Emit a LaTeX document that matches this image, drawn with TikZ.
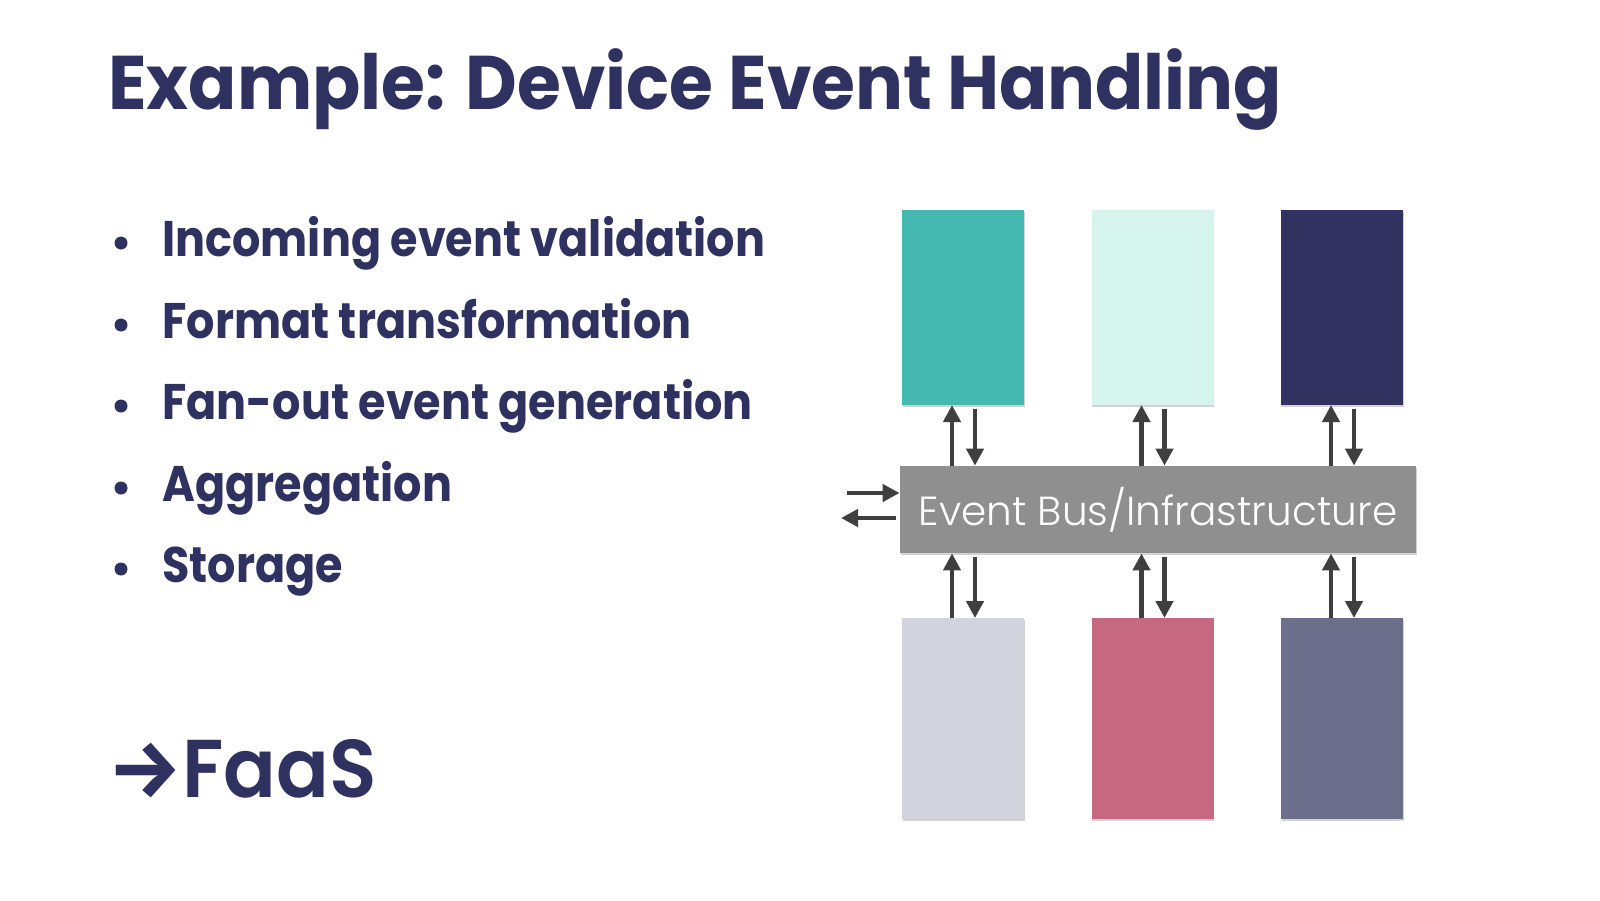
\documentclass[tikz,border=0pt]{standalone}
\usepackage{fontspec}
\setmainfont{Poppins}
\newfontfamily\titlefont{Poppins}[FakeStretch=0.936]
\newfontfamily\bulletfont{Poppins}[FakeStretch=0.89]
\newfontfamily\busfont{Poppins}[UprightFont=* Light]
\newfontfamily\faasfont{Poppins}[UprightFont=* SemiBold, FakeStretch=0.95]
\newfontfamily\arrowfont{Fira Sans}
\usetikzlibrary{arrows.meta,calc,shadows}
\definecolor{navy}{HTML}{2F3160}
\definecolor{cteal}{HTML}{45B8B2}
\definecolor{cmint}{HTML}{D5F4EE}
\definecolor{cnavy}{HTML}{31325F}
\definecolor{cgrey}{HTML}{D2D3DC}
\definecolor{cpink}{HTML}{C66882}
\definecolor{cslate}{HTML}{6D6E8B}
\definecolor{cbus}{HTML}{8F8F8F}
\definecolor{carrow}{HTML}{3F3F3F}
\tikzset{
  blockbox/.style={rectangle, minimum width=61pt, inner sep=0pt, outer sep=0pt,
    drop shadow={shadow xshift=0.4pt, shadow yshift=-0.9pt, opacity=0.35}},
  topbox/.style={blockbox, minimum height=97.5pt},
  botbox/.style={blockbox, minimum height=100.5pt},
  conn/.style={draw=carrow, line width=2.4pt, -{Triangle[width=8.5pt,length=8.5pt]}},
  bullettext/.style={anchor=base west, inner sep=0pt, text=navy, font=\bulletfont\fontsize{25}{30}\selectfont\bfseries},
  dot/.style={circle, fill=navy, minimum size=6.5pt, inner sep=0pt}
}
\begin{document}
\begin{tikzpicture}[x=0.5pt,y=-0.5pt]
\useasboundingbox (0,0) rectangle (1600,900);
\fill[white] (0,0) rectangle (1600,900);
% title
\node[anchor=base west, inner sep=0pt, text=navy, font=\titlefont\fontsize{38}{44}\selectfont\bfseries] (title) at (108,109) {Example: Device Event Handling};
% bullets
\foreach \i/\t/\yy in {1/Incoming event validation/256, 2/Format transformation/338, 3/Fan-out event generation/419, 4/Aggregation/501, 5/Storage/582}{
  \node[dot] (d\i) at (121,\yy-13) {};
  \node[bullettext] (b\i) at (162,\yy) {\t};
}
\node[anchor=base west, inner sep=0pt, text=navy, font=\faasfont\fontsize{41}{48}\selectfont] (faas) at (108,797) {{\arrowfont\bfseries →}FaaS};
% boxes
\node[topbox, fill=cteal] (t1) at (963,307.5) {};
\node[topbox, fill=cmint] (t2) at (1152.5,307.5) {};
\node[topbox, fill=cnavy] (t3) at (1342,307.5) {};
\node[botbox, fill=cgrey] (u1) at (963,718.5) {};
\node[botbox, fill=cpink] (u2) at (1152.5,718.5) {};
\node[botbox, fill=cslate] (u3) at (1342,718.5) {};
\node[rectangle, fill=cbus, minimum width=258pt, minimum height=43.5pt, inner sep=0pt, text=white,
  drop shadow={shadow xshift=0.4pt, shadow yshift=-0.9pt, opacity=0.35},
  font=\busfont\fontsize{20.3}{24}\selectfont] (bus) at (1158,509.5) {Event Bus/Infrastructure};
% vertical arrows
\foreach \b in {1,2,3}{
  \draw[conn] ([xshift=-5.5pt]t\b.south |- bus.north) -- ([xshift=-5.5pt]t\b.south);
  \draw[conn] ([xshift=6pt,yshift=-2pt]t\b.south) -- ([xshift=6pt]t\b.south |- bus.north);
  \draw[conn] ([xshift=-5.5pt]u\b.north) -- ([xshift=-5.5pt]u\b.north |- bus.south);
  \draw[conn] ([xshift=6pt,yshift=-2pt]u\b.north |- bus.south) -- ([xshift=6pt]u\b.north);
}
% side arrows
\coordinate (inA) at (847,493);
\coordinate (outA) at (841,518);
\draw[conn] (inA) -- (inA -| bus.west);
\draw[conn] ([xshift=-2pt]bus.west |- outA) -- (outA);
\end{tikzpicture}
\end{document}
